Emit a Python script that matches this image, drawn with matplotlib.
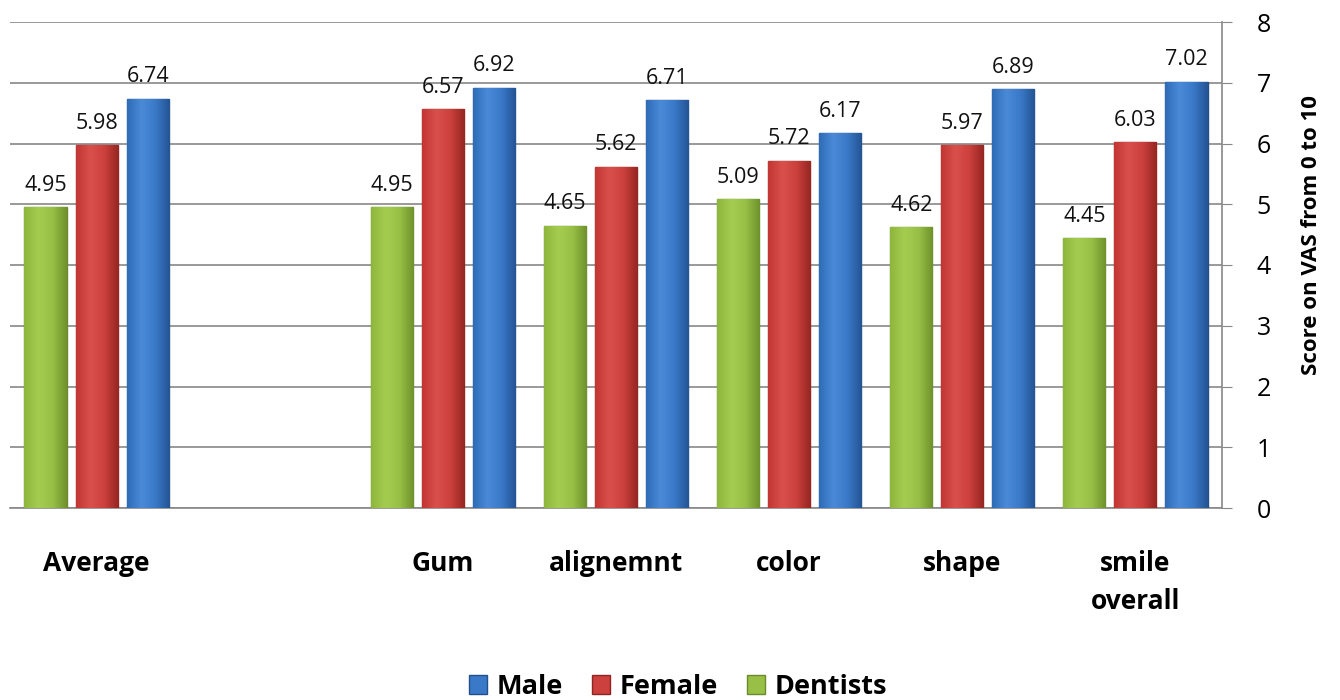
import matplotlib.pyplot as plt
import numpy as np
from matplotlib.colors import LinearSegmentedColormap

plt.rcParams['font.family'] = ['Open Sans', 'DejaVu Sans']

categories = ["Average", "", "Gum", "alignemnt", "color", "shape", "smile\noverall"]
dentists = [4.95, np.nan, 4.95, 4.65, 5.09, 4.62, 4.45]
female = [5.98, np.nan, 6.57, 5.62, 5.72, 5.97, 6.03]
male = [6.74, np.nan, 6.92, 6.71, 6.17, 6.89, 7.02]

fig = plt.figure(figsize=(13.4, 7), dpi=100)
ax = fig.add_axes([10/1340, 1-508/700, 1212/1340, 486/700])

x = np.arange(len(categories))
w = 0.243
off = 0.295

series = [
    ("Dentists", dentists, -off, ['#8fb63c', '#a4cd50', '#98c046', '#6f922c'], '#6a8a2c'),
    ("Female", female, 0, ['#c23633', '#d8504c', '#cc403d', '#962622'], '#8e2522'),
    ("Male", male, off, ['#2f6cb8', '#4a8ad6', '#3a79c8', '#245594'], '#24508a'),
]
grad = np.linspace(0, 1, 64).reshape(1, -1)
handles = {}
for name, vals, dx, cols, ec in series:
    cmap = LinearSegmentedColormap.from_list(name, cols)
    bars = ax.bar(x + dx, vals, width=w, color=cols[2], edgecolor=ec, linewidth=1.0, zorder=3)
    handles[name] = bars
    # soft horizontal shading so the bars look rounded like the original
    for b in bars:
        h = b.get_height()
        if np.isnan(h):
            continue
        im = ax.imshow(grad, cmap=cmap, aspect='auto', zorder=3.5,
                       extent=[b.get_x(), b.get_x() + b.get_width(), 0, h])
        im.set_clip_path(b)
    for xi, v in zip(x + dx, vals):
        if not np.isnan(v):
            ax.annotate(f"{v:.2f}", (xi, v), xytext=(0, 8), textcoords='offset points',
                        ha='center', va='bottom', fontsize=15.5, color='#111111')

ax.set_xlim(-0.5, len(categories) - 0.5)
ax.set_ylim(0, 8)
ax.set_yticks(range(0, 9))
ax.yaxis.tick_right()
ax.tick_params(axis='y', length=7, color='#888888', labelsize=18, pad=18)
ax.set_ylabel("Score on VAS from 0 to 10", fontsize=16, fontweight='bold')
ax.yaxis.set_label_position('right')
ax.yaxis.set_label_coords(1.065, 0.562)
ax.grid(axis='y', color='#888888', linewidth=1.2, zorder=0)
ax.set_xticks(x)
ax.set_xticklabels(categories, fontsize=19, fontweight='bold', va='top', linespacing=1.55)
ax.tick_params(axis='x', length=0, pad=30)
for s in ['top', 'left']:
    ax.spines[s].set_visible(False)
ax.spines['right'].set_color('#888888')
ax.spines['bottom'].set_color('#888888')
ax.spines['right'].set_linewidth(1.2)
ax.spines['bottom'].set_linewidth(1.2)

fig.legend([handles["Male"], handles["Female"], handles["Dentists"]],
           ["Male", "Female", "Dentists"], loc='center', bbox_to_anchor=(678/1340, 1-687/700),
           ncol=3, frameon=False, prop={'size': 19.5, 'weight': 'bold'},
           handlelength=0.65, handleheight=0.65, handletextpad=0.35, columnspacing=1.1)

fig.savefig("out.png", dpi=100)
